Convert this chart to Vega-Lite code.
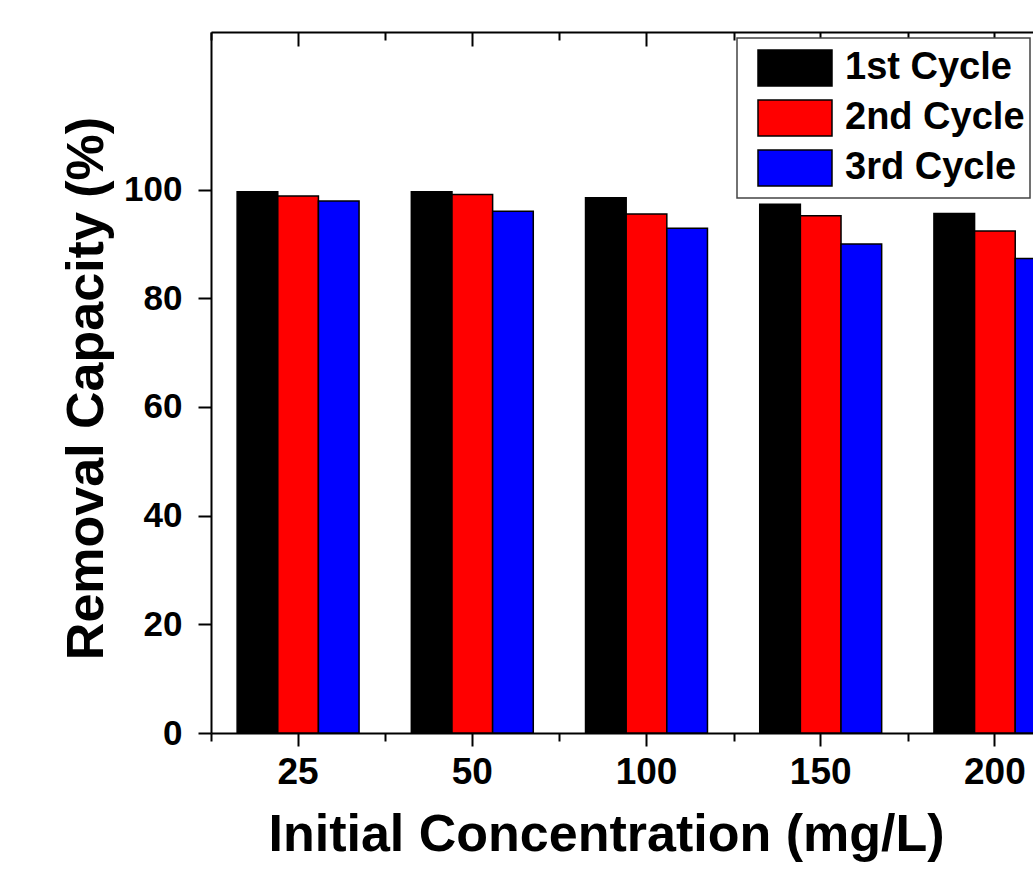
{
  "$schema": "https://vega.github.io/schema/vega-lite/v6.json",
  "width": 822,
  "height": 701,
  "autosize": {"type": "none"},
  "padding": {"left": 211, "top": 32, "right": 0, "bottom": 137},
  "background": "white",
  "config": {
    "view": {"stroke": null},
    "font": "Liberation Sans",
    "axis": {"grid": false, "domainColor": "black", "tickColor": "black", "domainWidth": 2, "tickWidth": 2, "labelColor": "black", "titleColor": "black", "labelFont": "Liberation Sans", "titleFont": "Liberation Sans", "labelFontWeight": "bold", "titleFontWeight": "bold"},
    "legend": {"strokeColor": "#444444", "strokeWidth": 1.5, "fillColor": "white"}
  },
  "data": {
    "values": [
      {"conc": "25", "cycle": "1st Cycle", "value": 99.6},
      {"conc": "25", "cycle": "2nd Cycle", "value": 98.8},
      {"conc": "25", "cycle": "3rd Cycle", "value": 97.9},
      {"conc": "50", "cycle": "1st Cycle", "value": 99.6},
      {"conc": "50", "cycle": "2nd Cycle", "value": 99.1},
      {"conc": "50", "cycle": "3rd Cycle", "value": 96.0},
      {"conc": "100", "cycle": "1st Cycle", "value": 98.5},
      {"conc": "100", "cycle": "2nd Cycle", "value": 95.5},
      {"conc": "100", "cycle": "3rd Cycle", "value": 92.9},
      {"conc": "150", "cycle": "1st Cycle", "value": 97.3},
      {"conc": "150", "cycle": "2nd Cycle", "value": 95.2},
      {"conc": "150", "cycle": "3rd Cycle", "value": 90.0},
      {"conc": "200", "cycle": "1st Cycle", "value": 95.6},
      {"conc": "200", "cycle": "2nd Cycle", "value": 92.4},
      {"conc": "200", "cycle": "3rd Cycle", "value": 87.3}
    ]
  },
  "layer": [
    {
      "mark": {"type": "bar", "stroke": "black", "strokeWidth": 1.5},
      "encoding": {
        "x": {
          "field": "conc", "type": "ordinal", "sort": ["25", "50", "100", "150", "200"],
          "scale": {"range": [0, 871], "paddingInner": 0.3, "paddingOuter": 0.15},
          "axis": {"orient": "bottom", "title": "Initial Concentration (mg/L)", "titleFontSize": 52, "titlePadding": 19, "titleX": 395, "titleAnchor": "start", "titleAlign": "center", "labelFontSize": 37, "labelPadding": 8, "tickSize": 13, "labelAngle": 0}
        },
        "xOffset": {"field": "cycle", "sort": ["1st Cycle", "2nd Cycle", "3rd Cycle"]},
        "y": {
          "field": "value", "type": "quantitative",
          "scale": {"domain": [0, 129], "nice": false, "zero": true},
          "axis": {"values": [0, 20, 40, 60, 80, 100], "title": "Removal Capacity (%)", "titleFontSize": 52, "titlePadding": 10, "titleY": 356, "titleAnchor": "start", "titleAlign": "center", "labelFontSize": 35, "labelPadding": 16, "tickSize": 13}
        },
        "color": {
          "field": "cycle", "type": "nominal",
          "scale": {"domain": ["1st Cycle", "2nd Cycle", "3rd Cycle"], "range": ["#000000", "#ff0000", "#0000ff"]},
          "legend": {
            "orient": "none", "legendX": 526, "legendY": 6, "title": null,
            "labelFontSize": 38, "labelFont": "Liberation Sans", "labelFontWeight": "bold", "labelColor": "black", "labelLimit": 500,
            "symbolType": "M-1,-0.486H1V0.486H-1Z", "symbolSize": 5476, "symbolStrokeColor": "black", "symbolStrokeWidth": 1.5, "symbolOpacity": 1,
            "clipHeight": 50, "rowPadding": 0, "padding": 5, "symbolOffset": 15, "labelOffset": 12
          }
        }
      }
    },
    {
      "mark": {"type": "point", "opacity": 0},
      "encoding": {
        "x": {
          "field": "conc", "type": "ordinal", "sort": ["25", "50", "100", "150", "200"],
          "axis": {"orient": "bottom", "title": null, "labels": false, "domain": false, "bandPosition": 0, "tickOffset": -26.1, "tickSize": 8}
        },
        "y": {
          "field": "value", "type": "quantitative",
          "axis": {"values": [10, 30, 50, 70, 90, 110], "title": null, "labels": false, "domain": false, "tickSize": 7}
        }
      }
    },
    {
      "mark": {"type": "point", "opacity": 0},
      "encoding": {
        "x": {
          "field": "conc", "type": "ordinal", "sort": ["25", "50", "100", "150", "200"],
          "axis": {"orient": "top", "title": null, "labels": false, "domain": true, "tickSize": -14}
        }
      }
    },
    {
      "mark": {"type": "point", "opacity": 0},
      "encoding": {
        "x": {
          "field": "conc", "type": "ordinal", "sort": ["25", "50", "100", "150", "200"],
          "axis": {"orient": "top", "title": null, "labels": false, "domain": false, "bandPosition": 0, "tickOffset": -26.1, "tickSize": -8}
        }
      }
    }
  ],
  "resolve": {"axis": {"x": "independent", "y": "independent"}}
}
